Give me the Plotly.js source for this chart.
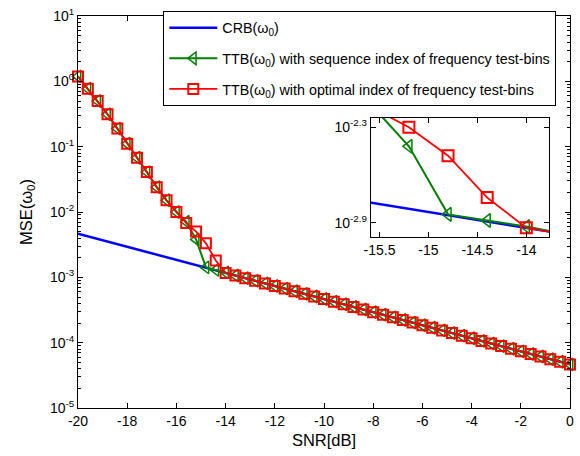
<!DOCTYPE html>
<html><head><meta charset="utf-8">
<script src="https://cdn.plot.ly/plotly-3.0.1.min.js"></script>
<style>html,body{margin:0;padding:0;background:#fff}</style>
</head><body><div id="chart" style="width:580px;height:456px"></div>
<script>
// SNR grid (dB)
const snr = [-20,-19.6,-19.2,-18.8,-18.4,-18,-17.6,-17.2,-16.8,-16.4,-16,-15.6,-15.2,-14.8,-14.4,-14,-13.6,-13.2,-12.8,-12.4,-12,-11.6,-11.2,-10.8,-10.4,-10,-9.6,-9.2,-8.8,-8.4,-8,-7.6,-7.2,-6.8,-6.4,-6,-5.6,-5.2,-4.8,-4.4,-4,-3.6,-3.2,-2.8,-2.4,-2,-1.6,-1.2,-0.8,-0.4,0];
// CRB(omega0)
const crb = [4.65e-3,4.241e-3,3.868e-3,3.527e-3,3.217e-3,2.934e-3,2.676e-3,2.440e-3,2.226e-3,2.030e-3,1.851e-3,1.688e-3,1.540e-3,1.404e-3,1.281e-3,1.168e-3,1.065e-3,9.714e-4,8.859e-4,8.080e-4,7.370e-4,6.721e-4,6.130e-4,5.590e-4,5.098e-4,4.650e-4,4.241e-4,3.868e-4,3.527e-4,3.217e-4,2.934e-4,2.676e-4,2.440e-4,2.226e-4,2.030e-4,1.851e-4,1.688e-4,1.540e-4,1.404e-4,1.281e-4,1.168e-4,1.065e-4,9.714e-5,8.859e-5,8.080e-5,7.370e-5,6.721e-5,6.130e-5,5.590e-5,5.098e-5,4.650e-5];
// TTB with sequence index
const ttbSeq = [1.19,0.773,0.499,0.313,0.189,0.111,0.0676,0.0408,0.0240,0.0151,0.0100,0.00708,0.00380,1.42e-3,1.30e-3,1.19e-3,1.065e-3,9.714e-4,8.859e-4,8.080e-4,7.370e-4,6.721e-4,6.130e-4,5.590e-4,5.098e-4,4.650e-4,4.241e-4,3.868e-4,3.527e-4,3.217e-4,2.934e-4,2.676e-4,2.440e-4,2.226e-4,2.030e-4,1.851e-4,1.688e-4,1.540e-4,1.404e-4,1.281e-4,1.168e-4,1.065e-4,9.714e-5,8.859e-5,8.080e-5,7.370e-5,6.721e-5,6.130e-5,5.590e-5,5.098e-5,4.650e-5];
// TTB with optimal index
const ttbOpt = [1.19,0.773,0.499,0.313,0.189,0.111,0.0676,0.0408,0.0240,0.0151,0.0100,0.00676,0.00501,0.00332,0.00181,1.168e-3,1.065e-3,9.714e-4,8.859e-4,8.080e-4,7.370e-4,6.721e-4,6.130e-4,5.590e-4,5.098e-4,4.650e-4,4.241e-4,3.868e-4,3.527e-4,3.217e-4,2.934e-4,2.676e-4,2.440e-4,2.226e-4,2.030e-4,1.851e-4,1.688e-4,1.540e-4,1.404e-4,1.281e-4,1.168e-4,1.065e-4,9.714e-5,8.859e-5,8.080e-5,7.370e-5,6.721e-5,6.130e-5,5.590e-5,5.098e-5,4.650e-5];

const seriesNames = ['CRB(ω<sub>0</sub>)','TTB(ω<sub>0</sub>) with sequence index of frequency test-bins','TTB(ω<sub>0</sub>) with optimal index of frequency test-bins'];

const xTickVals = [-20,-18,-16,-14,-12,-10,-8,-6,-4,-2,0];
const xTickText = ['-20','-18','-16','-14','-12','-10','-8','-6','-4','-2','0'];
const yTickVals = [1e-5,1e-4,1e-3,1e-2,1e-1,1,10];
const yTickText = ['10<sup>-5</sup>','10<sup>-4</sup>','10<sup>-3</sup>','10<sup>-2</sup>','10<sup>-1</sup>','10<sup>0</sup>','10<sup>1</sup>'];
const insetXTickVals = [-15.5,-15,-14.5,-14];
const insetXTickText = ['-15.5','-15','-14.5','-14'];
const insetYTickVals = [0.0012589,0.0050119];
const insetYTickText = ['10<sup>-2.9</sup>','10<sup>-2.3</sup>'];

const minorVals = [];
for (let e=-5; e<1; e++) for (let m=2; m<=9; m++) minorVals.push(m*Math.pow(10,e));

const BLUE='#0000ff', GREEN='#008000', RED='#ff0000';
const FONT='Liberation Sans, Arial, sans-serif';

const traces = [
 {x:snr,y:crb,mode:'lines',name:seriesNames[0],line:{color:BLUE,width:2.5},legendgroup:'a',cliponaxis:false},
 {x:snr,y:ttbSeq,mode:'lines+markers',name:seriesNames[1],line:{color:GREEN,width:2},
  marker:{symbol:'triangle-left-open',size:11,color:GREEN,line:{width:1.5,color:GREEN}},legendgroup:'b',cliponaxis:false},
 {x:snr,y:ttbOpt,mode:'lines+markers',name:seriesNames[2],line:{color:RED,width:1.8},
  marker:{symbol:'square-open',size:10,color:RED,line:{width:2,color:RED}},legendgroup:'c',cliponaxis:false},
 {x:snr,y:crb,mode:'lines',xaxis:'x2',yaxis:'y2',showlegend:false,line:{color:BLUE,width:2.5}},
 {x:snr,y:ttbSeq,mode:'lines+markers',xaxis:'x2',yaxis:'y2',showlegend:false,line:{color:GREEN,width:2},
  marker:{symbol:'triangle-left-open',size:12,color:GREEN,line:{width:1.5,color:GREEN}}},
 {x:snr,y:ttbOpt,mode:'lines+markers',xaxis:'x2',yaxis:'y2',showlegend:false,line:{color:RED,width:1.8},
  marker:{symbol:'square-open',size:11,color:RED,line:{width:2,color:RED}}}
];

const axBase = {showline:true,linecolor:'#000',linewidth:1,mirror:'ticks',ticks:'inside',tickcolor:'#000',
  ticklen:5,tickwidth:1,showgrid:false,zeroline:false,tickfont:{family:FONT,size:14,color:'#000'}};

const layout = {
  width:580,height:456,
  margin:{l:78,r:10,t:16,b:48,autoexpand:false},
  paper_bgcolor:'#fff',plot_bgcolor:'#fff',
  font:{family:FONT,color:'#000'},
  showlegend:true,
  legend:{x:0.1734,y:1.0128,xanchor:'left',yanchor:'top',bgcolor:'#fff',bordercolor:'#000',borderwidth:1,
    font:{family:FONT,size:14.3,color:'#000'},tracegroupgap:9,itemwidth:48},
  xaxis:Object.assign({},axBase,{range:[-20,0],domain:[0,1],tickmode:'array',tickvals:xTickVals,ticktext:xTickText,
    title:{text:'SNR[dB]',font:{family:FONT,size:16.5,color:'#000'},standoff:6}}),
  yaxis:Object.assign({},axBase,{type:'log',range:[-5,1],domain:[0,1],tickmode:'array',tickvals:yTickVals,ticktext:yTickText,
    minor:{tickmode:'array',tickvals:minorVals,ticks:'inside',ticklen:3,tickcolor:'#000',showgrid:false},
    title:{text:'MSE(ω<sub>0</sub>)',font:{family:FONT,size:16.5,color:'#000'},standoff:13}}),
  xaxis2:Object.assign({},axBase,{anchor:'y2',range:[-15.59,-13.77],domain:[0.595,0.957],tickmode:'array',
    tickvals:insetXTickVals,ticktext:insetXTickText}),
  yaxis2:Object.assign({},axBase,{anchor:'x2',type:'log',range:[-2.993,-2.2415],domain:[0.435,0.74],tickmode:'array',
    tickvals:insetYTickVals,ticktext:insetYTickText})
};

Plotly.newPlot('chart',traces,layout,{displayModeBar:false,staticPlot:true});
</script></body></html>
